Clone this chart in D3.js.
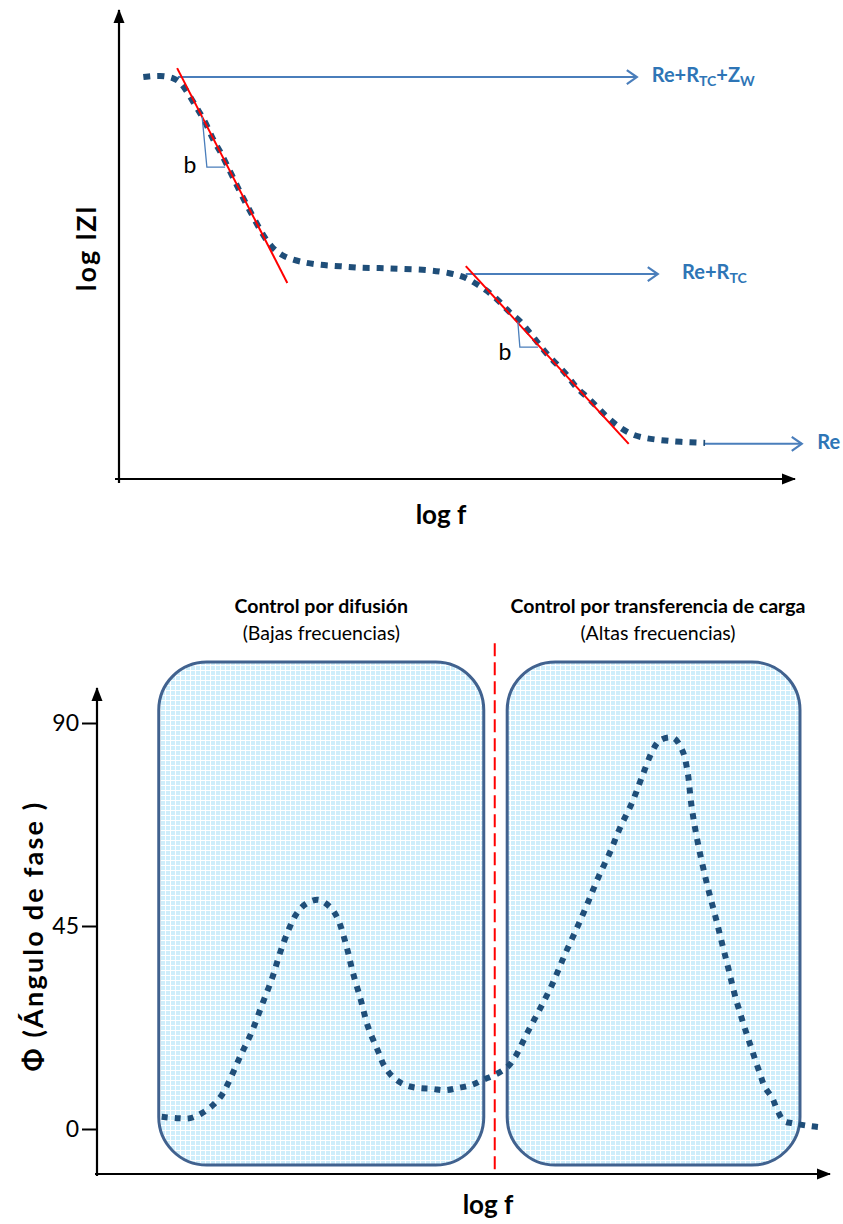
<!DOCTYPE html>
<html>
<head>
<meta charset="utf-8">
<script src="https://cdn.jsdelivr.net/npm/d3@7"></script>
<style>
  body { margin: 0; background: #fff; }
  svg { display: block; font-family: Lato, "Open Sans", sans-serif; }
</style>
</head>
<body>
<svg id="chart" width="843" height="1224"></svg>
<script>
// ---------- Bode magnitude: log|Z| against log f ----------
const magLogF = [0.36,0.61,0.83,0.95,1.08,1.20,1.30,1.39,1.49,1.58,1.69,1.79,1.89,2.01,2.13,2.26,2.44,2.68,2.97,3.27,3.56,3.85,4.15,4.60,4.90,5.12,5.31,5.49,5.64,5.78,5.93,6.08,6.20,6.34,6.49,6.64,6.75,6.91,7.07,7.23,7.41,7.59,7.78,8.00,8.30,8.67];
const magLogZ = [8.57,8.61,8.55,8.40,8.08,7.80,7.55,7.23,7.01,6.74,6.42,6.12,5.84,5.52,5.20,4.93,4.73,4.63,4.56,4.54,4.50,4.50,4.48,4.46,4.39,4.31,4.14,3.97,3.77,3.54,3.39,3.11,2.90,2.64,2.43,2.20,1.96,1.77,1.54,1.30,1.09,0.94,0.87,0.83,0.79,0.77];

// plateau levels and their labels
const levelValue = [8.57, 4.37, 0.75];
const levelFrom  = [0.87, 5.13, 8.66];
const levelTo    = [7.66, 7.97, 10.10];
const levelLabelX = [7.88, 8.33, 10.33];
const levelLabelParts = [
  [["Re+R", false], ["TC", true], ["+Z", false], ["W", true]],
  [["Re+R", false], ["TC", true]],
  [["Re", false]]
];

// tangent lines (slope b)
const tangentX1 = [0.86, 5.13], tangentY1 = [8.76, 4.54];
const tangentX2 = [2.49, 7.54], tangentY2 = [4.18, 0.75];
// slope triangles: top point, corner, right point
const triTopX = [1.23, 5.90], triTopY = [7.72, 3.35];
const triCornerX = [1.30, 5.93], triCornerY = [6.65, 2.81];
const triRightX = [1.57, 6.20];
const slopeLabelX = [1.05, 5.71], slopeLabelY = [6.52, 2.54];
const slopeLabel = ["b", "b"];

// ---------- Bode phase: Φ against log f ----------
const phaseLogF = [0.87,1.08,1.26,1.42,1.57,1.69,1.78,1.94,2.10,2.24,2.38,2.49,2.62,2.72,2.84,3.01,3.17,3.27,3.39,3.48,3.59,3.69,3.83,3.91,4.03,4.19,4.37,4.56,4.74,4.92,5.11,5.26,5.42,5.59,5.70,5.87,6.05,6.22,6.37,6.53,6.68,6.83,6.99,7.13,7.30,7.43,7.58,7.68,7.86,7.98,8.05,8.11,8.20,8.33,8.43,8.52,8.61,8.70,8.81,8.92,9.04,9.11,9.21,9.28,9.37,9.49,9.70,9.86];
const phaseDeg  = [2.7,2.4,2.4,3.5,5.3,7.5,10.2,16.0,21.5,27.5,33.5,39.2,44.8,47.9,49.9,50.8,49.2,46.8,40.8,34.8,28.6,22.6,17.1,14.0,11.5,9.8,9.1,8.9,8.6,9.1,9.8,10.9,12.0,13.7,16.0,21.5,27.0,32.6,38.4,44.1,49.7,55.6,61.2,66.7,72.5,78.0,84.0,86.2,86.7,84.0,79.6,71.4,63.0,53.6,47.4,41.5,35.7,29.7,23.7,18.2,12.4,9.3,6.9,4.2,1.8,1.3,0.7,0.4];
const phaseTicks = [0, 45, 90];

// control regions
const regionFrom = [0.83, 5.59];
const regionTo   = [5.27, 9.59];
const regionPhaseTop = 103.5, regionPhaseBottom = -8.0;
const regionTitles = ["Control por difusión", "Control por transferencia de carga"];
const regionSubtitles = ["(Bajas frecuencias)", "(Altas frecuencias)"];
const regionTitleX = [3.05, 7.65];
const dividerLogF = 5.42, dividerTop = 107.7;

const svg = d3.select("#chart");
const DOT = "#1F4E79", ARROW = "#4A7EBB", LABEL = "#2E75B6";

const defs = svg.append("defs");
// filled black axis arrowhead
defs.append("marker").attr("id", "axisHead")
  .attr("viewBox", "0 -6 14 12").attr("refX", 13).attr("refY", 0)
  .attr("markerUnits", "userSpaceOnUse").attr("markerWidth", 14).attr("markerHeight", 12)
  .attr("orient", "auto")
  .append("path").attr("d", "M0,-5.5L14,0L0,5.5Z").attr("fill", "#000");
// open blue arrowhead
defs.append("marker").attr("id", "openHead")
  .attr("viewBox", "-12 -9 14 18").attr("refX", 0).attr("refY", 0)
  .attr("markerUnits", "userSpaceOnUse").attr("markerWidth", 14).attr("markerHeight", 18)
  .attr("orient", "auto")
  .append("path").attr("d", "M-10,-7L0,0L-10,7").attr("fill", "none")
  .attr("stroke", ARROW).attr("stroke-width", 2.2);
// light blue grid fill for the regions
const pat = defs.append("pattern").attr("id", "grid")
  .attr("patternUnits", "userSpaceOnUse").attr("width", 5).attr("height", 5);
pat.append("rect").attr("width", 5).attr("height", 5).attr("fill", "#FFFFFF");
pat.append("rect").attr("x", 1).attr("y", 1).attr("width", 4).attr("height", 4).attr("fill", "#CFEEFB");

// ================= Magnitude chart =================
const xTop = d3.scaleLinear().domain([0, 10]).range([119, 795]);
const yTop = d3.scaleLinear().domain([0, 10]).range([479, 10]);

const gMag = svg.append("g");
// axes
gMag.append("line")
  .attr("x1", xTop(0)).attr("y1", yTop(0) + 4)
  .attr("x2", xTop(0)).attr("y2", yTop(10))
  .attr("stroke", "#000").attr("stroke-width", 2.2).attr("marker-end", "url(#axisHead)");
gMag.append("line")
  .attr("x1", xTop(0) - 4).attr("y1", yTop(0))
  .attr("x2", xTop(10)).attr("y2", yTop(0))
  .attr("stroke", "#000").attr("stroke-width", 2.2).attr("marker-end", "url(#axisHead)");

// plateau arrows
levelValue.forEach((v, i) => {
  gMag.append("line")
    .attr("x1", xTop(levelFrom[i])).attr("y1", yTop(v))
    .attr("x2", xTop(levelTo[i])).attr("y2", yTop(v))
    .attr("stroke", ARROW).attr("stroke-width", 2).attr("marker-end", "url(#openHead)");
  const t = gMag.append("text")
    .attr("x", xTop(levelLabelX[i])).attr("y", yTop(v) + 5)
    .attr("fill", LABEL).attr("font-weight", "bold").attr("font-size", 20);
  levelLabelParts[i].forEach(([s, sub], k) => {
    const prevSub = k > 0 && levelLabelParts[i][k - 1][1];
    const ts = t.append("tspan").text(s);
    if (sub) ts.attr("font-size", 14).attr("dy", 4);
    else if (prevSub) ts.attr("dy", -4);
  });
});

// magnitude curve
const magLine = d3.line()
  .x((d, i) => xTop(magLogF[i]))
  .y((d, i) => yTop(magLogZ[i]))
  .curve(d3.curveBasis);
gMag.append("path").datum(magLogF).attr("d", magLine)
  .attr("fill", "none").attr("stroke", DOT).attr("stroke-width", 6)
  .attr("stroke-dasharray", "7 7");

// tangents
tangentX1.forEach((x1, i) => {
  gMag.append("line")
    .attr("x1", xTop(x1)).attr("y1", yTop(tangentY1[i]))
    .attr("x2", xTop(tangentX2[i])).attr("y2", yTop(tangentY2[i]))
    .attr("stroke", "#FF0000").attr("stroke-width", 2);
  gMag.append("polyline")
    .attr("points", [[xTop(triTopX[i]), yTop(triTopY[i])],
                     [xTop(triCornerX[i]), yTop(triCornerY[i])],
                     [xTop(triRightX[i]), yTop(triCornerY[i])]].join(" "))
    .attr("fill", "none").attr("stroke", ARROW).attr("stroke-width", 1.3);
  gMag.append("text")
    .attr("x", xTop(slopeLabelX[i])).attr("y", yTop(slopeLabelY[i]))
    .attr("text-anchor", "middle").attr("font-size", 23).attr("fill", "#000")
    .text(slopeLabel[i]);
});

// axis titles
gMag.append("text")
  .attr("transform", "translate(96,248) rotate(-90)")
  .attr("text-anchor", "middle").attr("font-weight", "bold").attr("font-size", 27)
  .attr("letter-spacing", 2)
  .text("log lZl");
gMag.append("text")
  .attr("x", 441).attr("y", 524)
  .attr("text-anchor", "middle").attr("font-weight", "bold").attr("font-size", 26)
  .text("log f");

// ================= Phase chart =================
const xBot = d3.scaleLinear().domain([0, 10]).range([98, 830]);
const yBot = d3.scaleLinear().domain([0, 90]).range([1129, 723]);
const gPhase = svg.append("g");

// regions
regionFrom.forEach((f, i) => {
  gPhase.append("rect")
    .attr("x", xBot(f)).attr("y", yBot(regionPhaseTop))
    .attr("width", xBot(regionTo[i]) - xBot(f))
    .attr("height", yBot(regionPhaseBottom) - yBot(regionPhaseTop))
    .attr("rx", 48).attr("ry", 48)
    .attr("fill", "url(#grid)").attr("stroke", "#41628F").attr("stroke-width", 3);
  gPhase.append("text")
    .attr("x", xBot(regionTitleX[i])).attr("y", 613)
    .attr("text-anchor", "middle").attr("font-weight", "bold").attr("font-size", 19.5)
    .text(regionTitles[i]);
  gPhase.append("text")
    .attr("x", xBot(regionTitleX[i])).attr("y", 640)
    .attr("text-anchor", "middle").attr("font-size", 19.5)
    .text(regionSubtitles[i]);
});

// divider
gPhase.append("line")
  .attr("x1", xBot(dividerLogF)).attr("y1", yBot(dividerTop))
  .attr("x2", xBot(dividerLogF)).attr("y2", 1174)
  .attr("stroke", "#FF0000").attr("stroke-width", 2).attr("stroke-dasharray", "13 6");

// axes
gPhase.append("line")
  .attr("x1", 97).attr("y1", 1176).attr("x2", 97).attr("y2", 688)
  .attr("stroke", "#000").attr("stroke-width", 2.2).attr("marker-end", "url(#axisHead)");
gPhase.append("line")
  .attr("x1", 95).attr("y1", 1174).attr("x2", xBot(10)).attr("y2", 1174)
  .attr("stroke", "#000").attr("stroke-width", 2.2).attr("marker-end", "url(#axisHead)");

const yAxis = d3.axisLeft(yBot).tickValues(phaseTicks).tickSize(14).tickPadding(3);
const ya = gPhase.append("g").attr("transform", "translate(96,0)").call(yAxis);
ya.select(".domain").remove();
ya.selectAll(".tick line").attr("stroke", "#000").attr("stroke-width", 2);
ya.selectAll(".tick text").attr("font-size", 23).attr("fill", "#000")
  .attr("font-family", "Lato, 'Open Sans', sans-serif");

// phase curve
const phaseLine = d3.line()
  .x((d, i) => xBot(phaseLogF[i]))
  .y((d, i) => yBot(phaseDeg[i]))
  .curve(d3.curveCatmullRom.alpha(0.5));
gPhase.append("path").datum(phaseLogF).attr("d", phaseLine)
  .attr("fill", "none").attr("stroke", DOT).attr("stroke-width", 6)
  .attr("stroke-dasharray", "6 7");

// axis titles
gPhase.append("text")
  .attr("transform", "translate(43,936) rotate(-90)")
  .attr("text-anchor", "middle").attr("font-weight", "bold").attr("font-size", 27)
  .attr("letter-spacing", 2.2)
  .text("Φ (Ángulo de fase )");
gPhase.append("text")
  .attr("x", 488).attr("y", 1214)
  .attr("text-anchor", "middle").attr("font-weight", "bold").attr("font-size", 26)
  .text("log f");
</script>
</body>
</html>
